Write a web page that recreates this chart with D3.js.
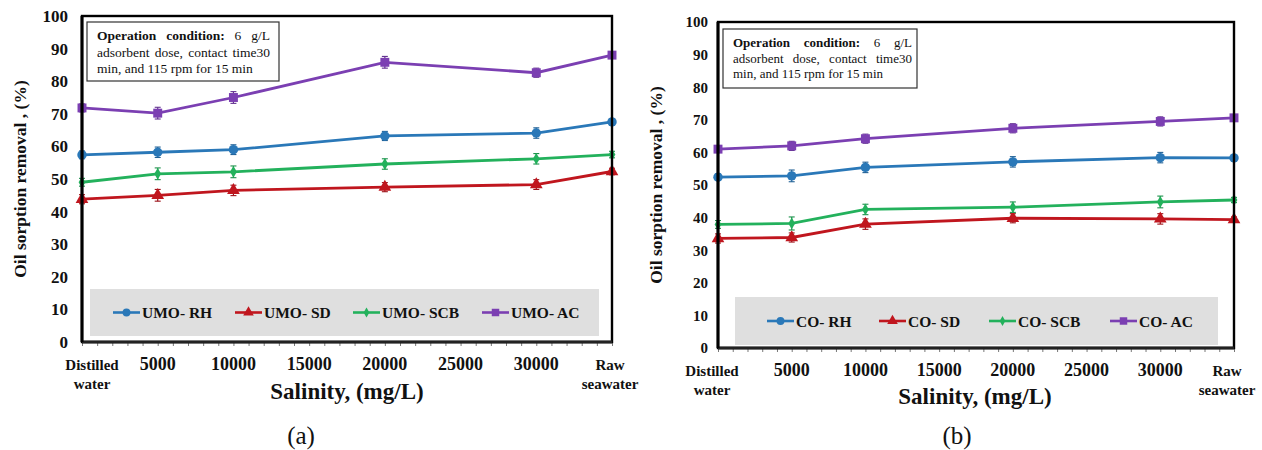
<!DOCTYPE html>
<html>
<head>
<meta charset="utf-8">
<script src="https://cdn.jsdelivr.net/npm/d3@7"></script>
<style>
  html, body { margin: 0; padding: 0; background: #fff; }
  svg { display: block; font-family: "Liberation Serif", "Times New Roman", serif; }
</style>
</head>
<body>
<svg id="chart" width="1262" height="450"></svg>
<script>
// Salinity levels (mg/L); the two ends are the named water types
const salinity = [0, 5000, 10000, 20000, 30000, 35000];
const xTickValues = [0, 5000, 10000, 15000, 20000, 25000, 30000, 35000];
const xTickLabels = ["Distilled\nwater", "5000", "10000", "15000", "20000", "25000", "30000", "Raw\nseawater"];
const yTickValues = [0, 10, 20, 30, 40, 50, 60, 70, 80, 90, 100];

// Panel (a): UMO sorbents
const umoNames = ["UMO- RH", "UMO- SD", "UMO- SCB", "UMO- AC"];
const umoRH  = [57.4, 58.2, 59.0, 63.2, 64.1, 67.5];
const umoSD  = [43.8, 45.0, 46.5, 47.5, 48.3, 52.3];
const umoSCB = [49.0, 51.6, 52.2, 54.6, 56.2, 57.5];
const umoAC  = [71.8, 70.2, 75.0, 85.8, 82.6, 88.0];
const umoRHErr  = [1.2, 1.6, 1.5, 1.4, 1.6, 1.0];
const umoSDErr  = [1.4, 1.8, 1.6, 1.4, 1.5, 1.0];
const umoSCBErr = [1.2, 1.8, 1.8, 1.6, 1.6, 1.0];
const umoACErr  = [1.2, 1.8, 1.8, 1.8, 1.4, 1.0];

// Panel (b): CO sorbents
const coNames = ["CO- RH", "CO- SD", "CO- SCB", "CO- AC"];
const coRH  = [52.4, 52.8, 55.4, 57.1, 58.4, 58.3];
const coSD  = [33.6, 33.9, 38.0, 39.8, 39.6, 39.4];
const coSCB = [37.9, 38.2, 42.5, 43.2, 44.8, 45.4];
const coAC  = [61.0, 62.0, 64.2, 67.4, 69.5, 70.6];
const coRHErr  = [1.0, 1.8, 1.6, 1.6, 1.6, 0.8];
const coSDErr  = [1.4, 1.4, 1.6, 1.4, 1.6, 0.8];
const coSCBErr = [1.2, 2.0, 1.6, 1.6, 1.8, 0.8];
const coACErr  = [1.0, 1.4, 1.4, 1.4, 1.4, 0.8];

const seriesColors = ["#2a78b8", "#c0161e", "#23b15c", "#7b3fb2"];
const seriesSymbols = [d3.symbolCircle, d3.symbolTriangle, d3.symbolDiamond, d3.symbolSquare];
const symbolSizes = [70, 70, 40, 80];

const conditionBold = "Operation condition:";
const conditionLines = ["6 g/L", "adsorbent dose, contact time30", "min, and 115 rpm for 15 min"];

const svg = d3.select("#chart");

// stretch the gaps between words so a line fills a given width
function justify(sel, width) {
  const node = sel.node();
  const natural = node.getComputedTextLength();
  const gaps = (node.textContent.match(/ /g) || []).length;
  if (gaps > 0) sel.attr("word-spacing", (width - natural) / gaps);
}

function drawPanel(cfg) {
  const g = svg.append("g");
  const x = d3.scaleLinear().domain([0, 35000]).range([cfg.left, cfg.right]);
  const y = d3.scaleLinear().domain([0, 100]).range([cfg.bottom, cfg.top]);

  // x axis with minor ticks every 1000
  const minor = d3.range(0, 35001, 1000);
  g.append("g")
    .attr("transform", `translate(0,${cfg.bottom})`)
    .call(d3.axisBottom(x).tickValues(minor).tickSize(4).tickFormat(""))
    .call(a => a.select(".domain").remove())
    .call(a => a.selectAll("line").attr("stroke", "#555").attr("stroke-width", 0.8));

  // x tick labels (multi-line for named water types)
  const xl = g.append("g").attr("font-weight", "bold").attr("fill", "#111");
  xTickValues.forEach((v, i) => {
    const parts = xTickLabels[i].split("\n");
    let cx = x(v);
    if (i === 0) cx += cfg.firstShift;
    if (i === xTickValues.length - 1) cx += cfg.lastShift;
    const t = xl.append("text")
      .attr("x", cx)
      .attr("y", cfg.bottom + cfg.xLabelDy)
      .attr("text-anchor", "middle")
      .attr("font-size", parts.length > 1 ? cfg.xNameSize : cfg.xTickSize);
    parts.forEach((p, k) => {
      t.append("tspan").attr("x", cx).attr("dy", k === 0 ? 0 : cfg.xNameLead).text(p);
    });
  });

  // y axis labels
  g.append("g")
    .attr("transform", `translate(${cfg.left},0)`)
    .call(d3.axisLeft(y).tickValues(yTickValues).tickSize(0).tickPadding(cfg.yPad))
    .call(a => a.select(".domain").remove())
    .call(a => a.selectAll("text")
      .attr("font-family", "Liberation Serif, serif")
      .attr("font-weight", "bold")
      .attr("font-size", cfg.yTickSize)
      .attr("fill", "#111"));

  // legend panel
  const lg = g.append("g");
  lg.append("rect")
    .attr("x", cfg.legend.x).attr("y", cfg.legend.y)
    .attr("width", cfg.legend.w).attr("height", cfg.legend.h)
    .attr("fill", "#dfdfdf");
  cfg.names.forEach((name, i) => {
    const lx = cfg.legend.items[i];
    const ly = cfg.legend.y + cfg.legend.h / 2;
    lg.append("line")
      .attr("x1", lx).attr("x2", lx + 27).attr("y1", ly).attr("y2", ly)
      .attr("stroke", seriesColors[i]).attr("stroke-width", 2.6);
    lg.append("path")
      .attr("d", d3.symbol().type(seriesSymbols[i]).size(symbolSizes[i] * 0.7)())
      .attr("transform", `translate(${lx + 13.5},${ly})`)
      .attr("fill", seriesColors[i]);
    lg.append("text")
      .attr("x", lx + 29).attr("y", ly + 5.5)
      .attr("font-size", cfg.legendSize).attr("font-weight", "bold")
      .attr("fill", "#111").text(name);
  });

  // series: lines, error bars, markers
  const line = d3.line().x((d, i) => x(salinity[i])).y(d => y(d));
  cfg.series.forEach((vals, s) => {
    const col = seriesColors[s];
    g.append("path").datum(vals)
      .attr("d", line).attr("fill", "none")
      .attr("stroke", col).attr("stroke-width", 2.8);
    const err = cfg.errors[s];
    vals.forEach((v, i) => {
      const cx = x(salinity[i]);
      g.append("line").attr("x1", cx).attr("x2", cx)
        .attr("y1", y(v - err[i])).attr("y2", y(v + err[i]))
        .attr("stroke", d3.color(col).darker(0.6)).attr("stroke-width", 1.2);
      [v - err[i], v + err[i]].forEach(e => {
        g.append("line").attr("x1", cx - 3).attr("x2", cx + 3)
          .attr("y1", y(e)).attr("y2", y(e))
          .attr("stroke", d3.color(col).darker(0.6)).attr("stroke-width", 1.1);
      });
      g.append("path")
        .attr("d", d3.symbol().type(seriesSymbols[s]).size(symbolSizes[s])())
        .attr("transform", `translate(${cx},${y(v)})`)
        .attr("fill", col);
    });
  });

  // plot frame
  g.append("rect")
    .attr("x", cfg.left).attr("y", cfg.top)
    .attr("width", cfg.right - cfg.left).attr("height", cfg.bottom - cfg.top)
    .attr("fill", "none").attr("stroke", "#000").attr("stroke-width", 2.4);
  g.append("line")
    .attr("x1", cfg.left).attr("x2", cfg.right)
    .attr("y1", cfg.bottom).attr("y2", cfg.bottom)
    .attr("stroke", "#222").attr("stroke-width", 3);
  g.append("line")
    .attr("x1", cfg.left).attr("x2", cfg.left)
    .attr("y1", cfg.top).attr("y2", cfg.bottom)
    .attr("stroke", "#000").attr("stroke-width", 3);

  // operation condition box
  const b = cfg.box;
  g.append("rect").attr("x", b.x).attr("y", b.y).attr("width", b.w).attr("height", b.h)
    .attr("fill", "#fff").attr("stroke", "#333").attr("stroke-width", 1.2);
  const t1 = g.append("text").attr("x", b.tx).attr("y", b.y + b.l1)
    .attr("font-size", b.size).attr("fill", "#111");
  t1.append("tspan").attr("font-weight", "bold").text(conditionBold + " ");
  t1.append("tspan").text(conditionLines[0]);
  justify(t1, b.tw);
  const t2 = g.append("text").attr("x", b.tx).attr("y", b.y + b.l1 + b.lead)
    .attr("font-size", b.size).attr("fill", "#111")
    .text(conditionLines[1]);
  justify(t2, b.tw);
  g.append("text").attr("x", b.tx).attr("y", b.y + b.l1 + 2 * b.lead)
    .attr("font-size", b.size).attr("fill", "#111")
    .text(conditionLines[2]);

  // axis titles
  g.append("text")
    .attr("transform", `translate(${cfg.yTitleX},${(cfg.top + cfg.bottom) / 2}) rotate(-90)`)
    .attr("text-anchor", "middle").attr("font-weight", "bold")
    .attr("font-size", cfg.yTitleSize).attr("fill", "#111")
    .text("Oil sorption  removal , (%)");
  g.append("text")
    .attr("x", cfg.xTitleX).attr("y", cfg.xTitleY)
    .attr("text-anchor", "middle").attr("font-weight", "bold")
    .attr("font-size", 23).attr("fill", "#111")
    .text("Salinity, (mg/L)");
  g.append("text")
    .attr("x", cfg.tagX).attr("y", 444)
    .attr("text-anchor", "middle")
    .attr("font-size", 25).attr("fill", "#111")
    .text(cfg.tag);
}

drawPanel({
  left: 82, right: 612, top: 16, bottom: 342,
  names: umoNames,
  series: [umoRH, umoSD, umoSCB, umoAC],
  errors: [umoRHErr, umoSDErr, umoSCBErr, umoACErr],
  xLabelDy: 28, xTickSize: 18, xNameSize: 15, xNameLead: 19,
  firstShift: 10, lastShift: -2,
  yTickSize: 17, yPad: 14,
  legend: { x: 90, y: 289, w: 509, h: 47, items: [113, 235, 353, 482] },
  legendSize: 15.5,
  box: { x: 87, y: 22, w: 192, h: 59, tx: 97, tw: 173, l1: 18, lead: 16.5, size: 13.5 },
  yTitleX: 26, yTitleSize: 17.5,
  xTitleX: 347, xTitleY: 399,
  tag: "(a)", tagX: 301
});

drawPanel({
  left: 718, right: 1234, top: 22, bottom: 348,
  names: coNames,
  series: [coRH, coSD, coSCB, coAC],
  errors: [coRHErr, coSDErr, coSCBErr, coACErr],
  xLabelDy: 28, xTickSize: 18, xNameSize: 15, xNameLead: 19,
  firstShift: -6, lastShift: -7,
  yTickSize: 15, yPad: 10,
  legend: { x: 735, y: 297, w: 483, h: 48, items: [767, 879, 989, 1110] },
  legendSize: 15.5,
  box: { x: 723, y: 29, w: 194, h: 59, tx: 733, tw: 179, l1: 18, lead: 15.5, size: 13 },
  yTitleX: 662, yTitleSize: 17.5,
  xTitleX: 975, xTitleY: 404,
  tag: "(b)", tagX: 957
});
</script>
</body>
</html>
